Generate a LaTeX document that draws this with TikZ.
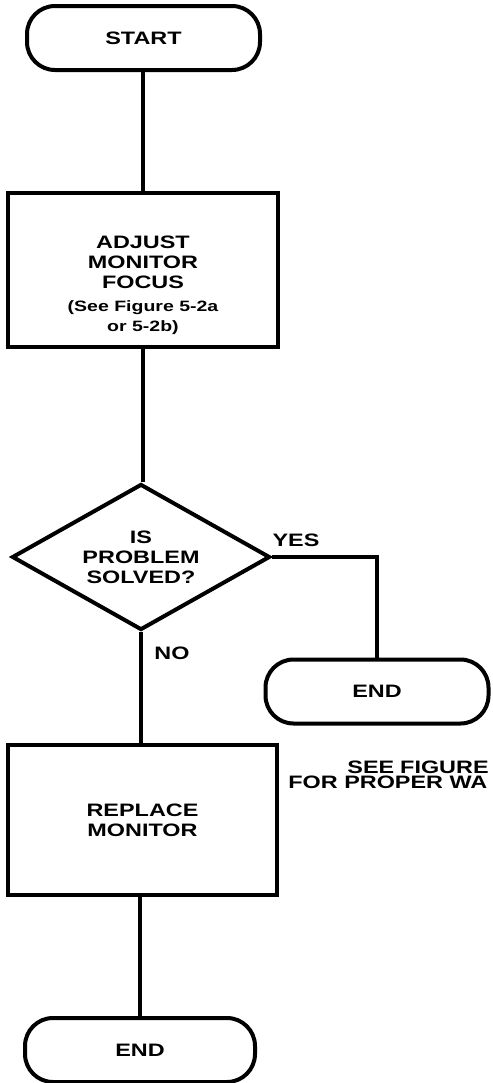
\documentclass[tikz,border=0pt]{standalone}
\usepackage{fontspec}
\setmainfont{Liberation Sans}[FakeStretch=1.3]
\usetikzlibrary{shapes.geometric}
\begin{document}
\begin{tikzpicture}[x=0.5pt,y=-0.5pt,
  lbl/.style={font=\fontsize{9}{10}\selectfont\bfseries},
  small/.style={font=\fontsize{7.5}{8.5}\selectfont\bfseries},
  term/.style={draw,line width=2pt,rounded corners=14pt,minimum height=32pt,inner sep=0pt,lbl},
  procbox/.style={draw,line width=2pt,minimum width=135pt,inner sep=0pt,align=center,lbl},
  decis/.style={draw,diamond,line width=2pt,minimum width=129pt,minimum height=73pt,aspect=1.77,inner sep=0pt,align=center,lbl},
  conn/.style={line width=2pt},
  note/.style={lbl,anchor=west,inner sep=0pt}
]
\useasboundingbox (0,0) rectangle (493,1083);
\node[term,minimum width=116.5pt] (start) at (143.5,38) {START};
\node[procbox,minimum height=77pt] (adj) at (143,270) {};
\node[lbl,align=center,inner sep=0pt] (adjtxt) at (143,285) {ADJUST\\MONITOR\\FOCUS\\[1.5pt]{\fontsize{7.5}{8.5}\selectfont\bfseries (See Figure 5-2a}\\{\fontsize{7.5}{8.5}\selectfont\bfseries or 5-2b)}};
\node[decis] (dia) at (141,557) {IS\\PROBLEM\\SOLVED?};
\node[term,minimum width=111.5pt] (endr) at (377,691.5) {END};
\node[procbox,minimum height=75pt,minimum width=134.5pt] (rep) at (142.5,820) {REPLACE\\MONITOR};
\node[term,minimum width=115pt] (endb) at (140,1050) {END};
\node[lbl,inner sep=0pt] (yes) at (296,540) {YES};
\node[lbl,inner sep=0pt] (no) at (172,653) {NO};
\begin{scope}
\clip (0,0) rectangle (493,1083);
\node[note] (see1) at (347,767) {SEE\,\,FIGURE};
\node[note] (see2) at (288,782) {FOR PROPER WA};
\end{scope}
\draw[conn] (start.south -| adj.north) -- (adj.north);
\draw[conn] (adj.south) -- (adj.south |- dia.north);
\draw[conn] (dia.east) -| (endr.north);
\draw[conn] (dia.south) -- (dia.south |- rep.north);
\draw[conn] (endb.north |- rep.south) -- (endb.north);
\end{tikzpicture}
\end{document}
